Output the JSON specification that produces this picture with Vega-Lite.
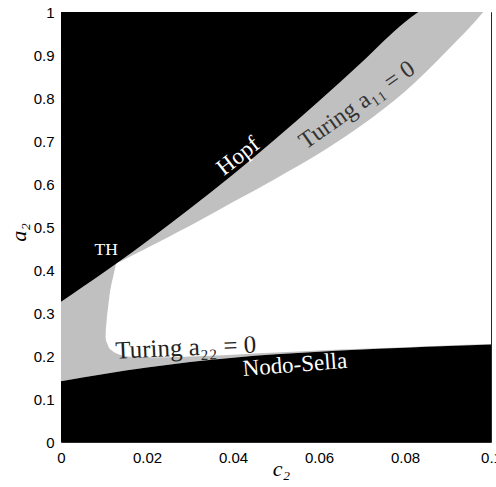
{
  "$schema": "https://vega.github.io/schema/vega-lite/v6.json",
  "width": 430,
  "height": 430,
  "autosize": {"type": "none"},
  "padding": {"left": 61, "top": 12, "right": 5, "bottom": 45},
  "background": "white",
  "config": {
    "view": {"stroke": "#262626", "strokeWidth": 1},
    "axis": {"grid": false, "domain": false, "ticks": false, "tickSize": 0, "labelFont": "Liberation Sans", "labelFontSize": 15, "labelColor": "#000", "titleColor": "#000", "titleFont": "Liberation Serif", "titleFontStyle": "italic", "titleFontWeight": "normal", "titleFontSize": 22}
  },
  "datasets": {
    "nodo": [
      {"c2": 0, "a2": 0.141}, {"c2": 0.01, "a2": 0.158}, {"c2": 0.02, "a2": 0.173}, {"c2": 0.03, "a2": 0.186},
      {"c2": 0.04, "a2": 0.196}, {"c2": 0.05, "a2": 0.204}, {"c2": 0.06, "a2": 0.21}, {"c2": 0.07, "a2": 0.215},
      {"c2": 0.08, "a2": 0.219}, {"c2": 0.09, "a2": 0.223}, {"c2": 0.1, "a2": 0.227}
    ],
    "hopf": [
      {"c2": 0, "a2": 0.326}, {"c2": 0.005, "a2": 0.3606}, {"c2": 0.01, "a2": 0.395}, {"c2": 0.01295, "a2": 0.4156},
      {"c2": 0.02, "a2": 0.467}, {"c2": 0.03, "a2": 0.543}, {"c2": 0.04, "a2": 0.622}, {"c2": 0.05, "a2": 0.706},
      {"c2": 0.06, "a2": 0.793}, {"c2": 0.07, "a2": 0.884}, {"c2": 0.08, "a2": 0.977}, {"c2": 0.0831, "a2": 1.0}
    ],
    "white": [
      {"c2": 0.01038, "a2": 0.245, "a2hi": 0.245}, {"c2": 0.01042, "a2": 0.24, "a2hi": 0.26},
      {"c2": 0.01047, "a2": 0.236, "a2hi": 0.266}, {"c2": 0.01077, "a2": 0.229, "a2hi": 0.299},
      {"c2": 0.011, "a2": 0.222, "a2hi": 0.318}, {"c2": 0.01124, "a2": 0.218, "a2hi": 0.338},
      {"c2": 0.01194, "a2": 0.212, "a2hi": 0.377}, {"c2": 0.01217, "a2": 0.21, "a2hi": 0.386},
      {"c2": 0.01295, "a2": 0.206, "a2hi": 0.4156}, {"c2": 0.0141, "a2": 0.202, "a2hi": 0.421},
      {"c2": 0.017, "a2": 0.198, "a2hi": 0.436}, {"c2": 0.02, "a2": 0.197, "a2hi": 0.451},
      {"c2": 0.025, "a2": 0.197, "a2hi": 0.477}, {"c2": 0.03, "a2": 0.199, "a2hi": 0.503},
      {"c2": 0.04, "a2": 0.203, "a2hi": 0.558}, {"c2": 0.05, "a2": 0.208, "a2hi": 0.613},
      {"c2": 0.06, "a2": 0.213, "a2hi": 0.671}, {"c2": 0.07, "a2": 0.217, "a2hi": 0.737},
      {"c2": 0.08, "a2": 0.2205, "a2hi": 0.815}, {"c2": 0.09, "a2": 0.2245, "a2hi": 0.912},
      {"c2": 0.0982, "a2": 0.2275, "a2hi": 1.0}, {"c2": 0.1, "a2": 0.228, "a2hi": 1.022}
    ]
  },
  "encoding": {
    "x": {"field": "c2", "type": "quantitative", "scale": {"domain": [0, 0.1], "nice": false, "zero": false},
      "axis": {"values": [0, 0.02, 0.04, 0.06, 0.08, 0.1], "format": "~g", "labelPadding": 8, "labelFlush": false, "title": "c₂", "titleX": 220, "titleY": 33, "titleBaseline": "alphabetic", "titleAlign": "center"}},
    "y": {"field": "a2", "type": "quantitative", "scale": {"domain": [0, 1], "nice": false, "zero": false},
      "axis": {"values": [0, 0.1, 0.2, 0.3, 0.4, 0.5, 0.6, 0.7, 0.8, 0.9, 1], "format": "~g", "labelPadding": 7, "labelFlush": false, "title": "a₂", "titleX": -36, "titleY": 220, "titleAngle": -90, "titleBaseline": "alphabetic", "titleAlign": "center"}}
  },
  "layer": [
    {"data": {"name": "nodo"}, "mark": {"type": "area", "color": "#c0c0c0", "interpolate": "monotone", "clip": true}, "encoding": {"y2": {"datum": 1}}},
    {"data": {"name": "white"}, "mark": {"type": "area", "color": "#ffffff", "interpolate": "monotone", "clip": true}, "encoding": {"y2": {"field": "a2hi"}}},
    {"data": {"name": "nodo"}, "mark": {"type": "area", "color": "#000000", "interpolate": "monotone", "clip": true}, "encoding": {"y2": {"datum": 0}}},
    {"data": {"name": "hopf"}, "mark": {"type": "area", "color": "#000000", "interpolate": "monotone", "clip": true}, "encoding": {"y2": {"datum": 1}}},
    {"data": {"values": [{"c2": 0.0422, "a2": 0.652, "label": "Hopf"}]}, "mark": {"type": "text", "angle": -38, "font": "Liberation Serif", "fontSize": 23, "color": "#ffffff", "align": "center", "baseline": "alphabetic"}, "encoding": {"text": {"field": "label"}}},
    {"data": {"values": [{"c2": 0.0698, "a2": 0.77, "label": "Turing a₁₁ = 0"}]}, "mark": {"type": "text", "angle": -35, "font": "Liberation Serif", "fontSize": 24, "color": "#333333", "align": "center", "baseline": "alphabetic"}, "encoding": {"text": {"field": "label"}}},
    {"data": {"values": [{"c2": 0.0291, "a2": 0.201, "label": "Turing a₂₂ = 0"}]}, "mark": {"type": "text", "angle": -2.5, "font": "Liberation Serif", "fontSize": 25, "color": "#222222", "align": "center", "baseline": "alphabetic"}, "encoding": {"text": {"field": "label"}}},
    {"data": {"values": [{"c2": 0.0545, "a2": 0.163, "label": "Nodo-Sella"}]}, "mark": {"type": "text", "angle": -4.5, "font": "Liberation Serif", "fontSize": 23, "color": "#ffffff", "align": "center", "baseline": "alphabetic"}, "encoding": {"text": {"field": "label"}}},
    {"data": {"values": [{"c2": 0.0105, "a2": 0.435, "label": "TH"}]}, "mark": {"type": "text", "font": "Liberation Serif", "fontSize": 17.5, "color": "#ffffff", "align": "center", "baseline": "alphabetic"}, "encoding": {"text": {"field": "label"}}}
  ]
}
